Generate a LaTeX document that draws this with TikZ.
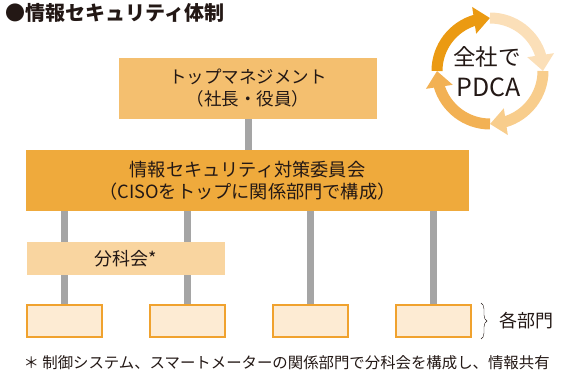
\documentclass[tikz,border=0pt]{standalone}
\usepackage{fontspec}
\setmainfont{Noto Sans CJK JP}
\usepackage{xcolor}
\usetikzlibrary{arrows.meta, bending, positioning, decorations.pathreplacing, backgrounds}
\definecolor{ink}{HTML}{231815}
\definecolor{headfill}{HTML}{F4BF6F}
\definecolor{boardfill}{HTML}{EFAA3C}
\definecolor{wgfill}{HTML}{F9D5A0}
\definecolor{deptfill}{HTML}{FDEBD3}
\definecolor{deptline}{HTML}{F0A22E}
\definecolor{linkgray}{HTML}{A5A5A5}
\definecolor{cycdark}{HTML}{EB9A12}
\definecolor{cycpale}{HTML}{FBDFB8}
\definecolor{cyclight}{HTML}{F8CD8C}
\definecolor{cycmid}{HTML}{F2B154}

\begin{document}
\begin{tikzpicture}[
  x=1pt, y=-1pt,
  font=\fontsize{17.5}{22}\selectfont, text=ink,
  headbox/.style={rectangle, fill=headfill, minimum width=258pt, minimum height=61pt,
                  inner sep=0pt, outer sep=0pt, align=center},
  boardbox/.style={rectangle, fill=boardfill, minimum width=443pt, minimum height=61pt,
                   inner sep=0pt, outer sep=0pt, align=center, font=\fontsize{18.2}{22}\selectfont},
  wgbox/.style={rectangle, fill=wgfill, minimum width=198pt, minimum height=33pt,
                inner sep=0pt, outer sep=0pt, font=\fontsize{18}{22}\selectfont},
  deptbox/.style={rectangle, draw=deptline, line width=1.2pt, fill=deptfill,
                  minimum width=75pt, minimum height=32pt, inner sep=0pt, outer sep=0pt},
  conn/.style={linkgray, line width=7pt},
  cycarr/.style={line width=11pt, -{Triangle[width=26pt, length=16pt, flex]}},
  node distance=48pt
]
  \useasboundingbox (0,0) rectangle (566,372);

  \node[anchor=west, font=\fontsize{20}{24}\selectfont\bfseries] (title) at (2,13) {●情報セキュリティ体制};

  \node[headbox]  (mgmt)  at (248,88.5)  {トップマネジメント\\（社長・役員）};
  \node[boardbox] (board) at (247.5,180.5) {情報セキュリティ対策委員会\\（CISOをトップに関係部門で構成）};

  \node[deptbox] (dept1) at (64.5,321) {};
  \node[deptbox, right=of dept1] (dept2) {};
  \node[deptbox, right=of dept2] (dept3) {};
  \node[deptbox, right=of dept3] (dept4) {};

  \node[wgbox] (wg) at (126,258.5) {分科会*};

  \begin{scope}[on background layer]
    \draw[conn] (mgmt.south) -- (mgmt.south |- board.north);
    \draw[conn] (dept1.north |- board.south) -- (dept1.north);
    \draw[conn] (dept2.north |- board.south) -- (dept2.north);
    \draw[conn] (dept3.north |- board.south) -- (dept3.north);
    \draw[conn] (dept4.north |- board.south) -- (dept4.north);
  \end{scope}

  % brace for the departments
  \draw[ink, thin, decorate, decoration={brace, amplitude=6pt}]
    ([xshift=10pt, yshift=2pt]dept4.north east) -- ([xshift=10pt, yshift=-2pt]dept4.south east)
    coordinate[midway] (bracemid);
  \node[anchor=west, font=\fontsize{18}{22}\selectfont] (deptlbl) at ([xshift=15pt]bracemid) {各部門};

  \node[anchor=west, font=\fontsize{15.4}{18}\selectfont] (note) at (20,363)
    {＊ 制御システム、スマートメーターの関係部門で分科会を構成し、情報共有};

  % PDCA cycle
  \coordinate (cyc) at (490,71);
  \draw[cycarr, cycdark]  (cyc) ++(180:53) arc[start angle=180, end angle=270, radius=53];
  \draw[cycarr, cycpale]  (cyc) ++(270:53) arc[start angle=270, end angle=360, radius=53];
  \draw[cycarr, cyclight] (cyc) ++(0:53)   arc[start angle=0,   end angle=90,  radius=53];
  \draw[cycarr, cycmid]   (cyc) ++(90:53)  arc[start angle=90,  end angle=180, radius=53];
  \node[font=\fontsize{22.5}{26}\selectfont] (cyctop) at (487,57) {全社で};
  \node[font=\fontsize{25}{28}\selectfont] (cycbot) at (489,87) {PDCA};
\end{tikzpicture}
\end{document}
